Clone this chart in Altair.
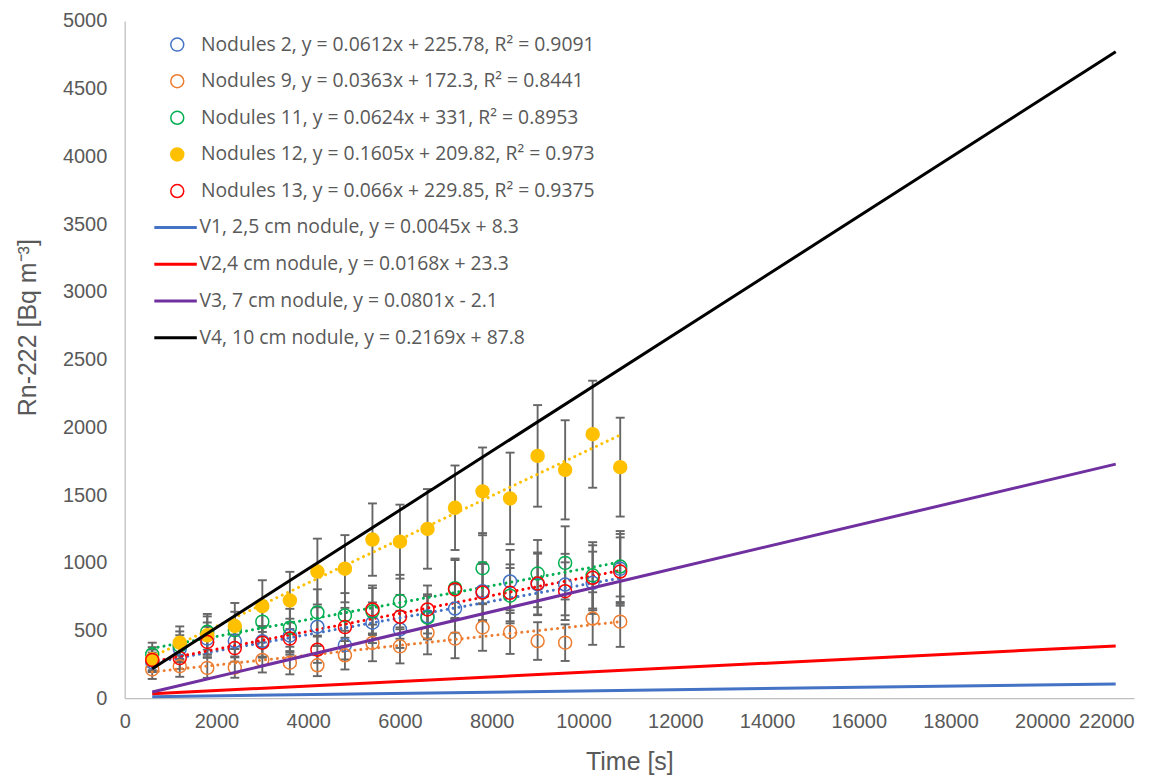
import altair as alt
import pandas as pd

# ---------------- data ----------------
times = [600, 1200, 1800, 2400, 3000, 3600, 4200, 4800, 5400, 6000,
         6600, 7200, 7800, 8400, 9000, 9600, 10200, 10800]

nod_names = [
    "Nodules 2, y = 0.0612x + 225.78, R² = 0.9091",
    "Nodules 9, y = 0.0363x + 172.3, R² = 0.8441",
    "Nodules 11, y = 0.0624x + 331, R² = 0.8953",
    "Nodules 12, y = 0.1605x + 209.82, R² = 0.973",
    "Nodules 13, y = 0.066x + 229.85, R² = 0.9375",
]
nod_colors = ["#4472C4", "#ED7D31", "#00B050", "#FFC000", "#FF0000"]
nod_fills = ["transparent", "transparent", "transparent", "#FFC000", "transparent"]

n2 = [265, 366, 440, 422, 420, 462, 528, 392, 557, 508, 604, 662, 790, 862, 840, 839, 852, 955]
n9 = [212, 236, 224, 226, 283, 262, 243, 317, 408, 383, 484, 440, 522, 488, 422, 410, 588, 565]
n11 = [323, 388, 490, 502, 565, 520, 633, 611, 640, 717, 594, 812, 960, 757, 920, 999, 907, 972]
n12 = [287, 410, 464, 533, 680, 722, 935, 956, 1171, 1156, 1250, 1406, 1527, 1475, 1789, 1686, 1949, 1706]
n13 = [283, 296, 415, 370, 410, 440, 358, 525, 655, 601, 655, 803, 780, 778, 847, 790, 889, 935]

n2_err = [72, 99, 119, 114, 113, 125, 143, 106, 150, 137, 163, 179, 213, 233, 227, 227, 230, 258]
n9_err = [70, 78, 74, 75, 93, 86, 80, 105, 135, 126, 160, 145, 172, 161, 139, 135, 194, 186]
n11_err = [87, 105, 132, 136, 153, 140, 171, 165, 173, 194, 160, 219, 259, 204, 248, 270, 245, 262]
n12_err = [90, 120, 140, 170, 191, 211, 243, 248, 267, 273, 294, 312, 324, 338, 375, 366, 395, 365]
n13_err = [76, 80, 112, 100, 111, 119, 97, 142, 177, 162, 177, 217, 211, 210, 229, 213, 240, 252]

# trend lines (from the legend equations), drawn over the measured time span
trend_slopes = [0.0612, 0.0363, 0.0624, 0.1605, 0.066]
trend_intercepts = [225.78, 172.3, 331, 209.82, 229.85]
trend_span = [600, 10800]

# model lines V1..V4
mod_names = [
    "V1, 2,5 cm nodule, y = 0.0045x + 8.3",
    "V2,4 cm nodule, y = 0.0168x + 23.3",
    "V3, 7 cm nodule, y = 0.0801x - 2.1",
    "V4, 10 cm nodule, y = 0.2169x + 87.8",
]
mod_colors = ["#4472C4", "#FF0000", "#7030A0", "#000000"]
mod_slopes = [0.0045, 0.0168, 0.0801, 0.2169]
mod_intercepts = [8.3, 23.3, -2.1, 87.8]
mod_span = [600, 21600]

x_ticks = [0, 2000, 4000, 6000, 8000, 10000, 12000, 14000, 16000, 18000, 20000, 22000]
y_ticks = [0, 500, 1000, 1500, 2000, 2500, 3000, 3500, 4000, 4500, 5000]

# ---------------- tables ----------------
series_vals = [n2, n9, n11, n12, n13]
series_errs = [n2_err, n9_err, n11_err, n12_err, n13_err]
rows = []
for name, vals, errs in zip(nod_names, series_vals, series_errs):
    for t, v, e in zip(times, vals, errs):
        rows.append({"series": name, "t": t, "val": v, "err": e})
pts = pd.DataFrame(rows)

trend_rows = []
for name, s, b in zip(nod_names, trend_slopes, trend_intercepts):
    for t in trend_span:
        trend_rows.append({"series": name, "t": t, "slope": s, "intercept": b})
trend_df = pd.DataFrame(trend_rows)

mod_rows = []
for name, s, b in zip(mod_names, mod_slopes, mod_intercepts):
    for t in mod_span:
        mod_rows.append({"model": name, "t": t, "slope": s, "intercept": b})
mod_df = pd.DataFrame(mod_rows)

# ---------------- scales / axes ----------------
GRAY = "#595959"
x_scale = alt.Scale(domain=[0, 22000], nice=False, zero=False)
y_scale = alt.Scale(domain=[0, 5000], nice=False)
x_axis = alt.Axis(
    values=x_ticks, title="Time [s]", format="d",
    labelAlign={"condition": {"test": "datum.value == 22000", "value": "right"}, "value": "center"},
    labelPadding=13, titleY=71, titleBaseline="alphabetic",
)
y_axis = alt.Axis(
    values=y_ticks, title="Rn-222 [Bq m⁻³]", format="d",
    labelPadding=18, titleX=-89, titleY=307, titleAngle=-90,
    titleBaseline="alphabetic", titleAlign="center",
)

X = lambda f: alt.X(f, scale=x_scale, axis=x_axis)
Y = lambda f: alt.Y(f, scale=y_scale, axis=y_axis)

common_leg = dict(
    title=None, orient="none", padding=0, labelFont="Open Sans",
    labelFontSize=19.4, labelColor=GRAY, labelLimit=700,
)
leg1 = dict(common_leg, legendX=43, legendY=14, symbolSize=169,
            symbolStrokeWidth=1.5, labelOffset=14, rowPadding=15.7)
leg2 = dict(common_leg, legendX=28, legendY=184, symbolType="stroke",
            symbolSize=1815, symbolStrokeWidth=3, labelOffset=1, rowPadding=3.9)

# ---------------- layers ----------------
err_base = alt.Chart(pts).transform_calculate(
    lo="datum.val - datum.err", hi="datum.val + datum.err"
)
err_rule = err_base.mark_rule(color="#666666", strokeWidth=1.9).encode(
    x=X("t:Q"), y=Y("lo:Q"), y2="hi:Q", detail="series:N"
)
err_lo = err_base.mark_tick(orient="horizontal", size=9, thickness=1.9,
                            color="#666666", opacity=1).encode(x=X("t:Q"), y=Y("lo:Q"))
err_hi = err_base.mark_tick(orient="horizontal", size=9, thickness=1.9,
                            color="#666666", opacity=1).encode(x=X("t:Q"), y=Y("hi:Q"))

trend_layers = []
for name, col in zip(nod_names, nod_colors):
    trend_layers.append(
        alt.Chart(trend_df).transform_filter(alt.datum.series == name)
        .transform_calculate(val="datum.slope * datum.t + datum.intercept")
        .mark_line(color=col, strokeWidth=3, strokeDash=[0.01, 6], strokeCap="round")
        .encode(x=X("t:Q"), y=Y("val:Q"))
    )

points = alt.Chart(pts).mark_point(size=169, strokeWidth=1.5, opacity=1).encode(
    x=X("t:Q"),
    y=Y("val:Q"),
    stroke=alt.Stroke("series:N", scale=alt.Scale(domain=nod_names, range=nod_colors),
                      legend=alt.Legend(**leg1)),
    fill=alt.Fill("series:N", scale=alt.Scale(domain=nod_names, range=nod_fills),
                  legend=alt.Legend(**leg1)),
)

models = alt.Chart(mod_df).transform_calculate(
    val="datum.slope * datum.t + datum.intercept"
).mark_line(strokeWidth=3).encode(
    x=X("t:Q"),
    y=Y("val:Q"),
    color=alt.Color("model:N", scale=alt.Scale(domain=mod_names, range=mod_colors),
                    legend=alt.Legend(**leg2)),
)

chart = alt.layer(err_rule, err_lo, err_hi, *trend_layers, points, models).properties(
    width=1012, height=679,
    padding={"left": 117, "top": 12, "right": 25, "bottom": 77},
    autosize=alt.AutoSizeParams(type="none"),
).configure_view(stroke=None).configure_axis(
    grid=False, ticks=False, domainColor="#BFBFBF", domainWidth=1.3,
    labelColor=GRAY, labelFont="Liberation Sans", labelFontSize=20,
    titleColor=GRAY, titleFont="Liberation Sans", titleFontSize=25,
    titleFontWeight="normal",
)

chart.save("out.html", embed_options={"renderer": "svg", "actions": False})
